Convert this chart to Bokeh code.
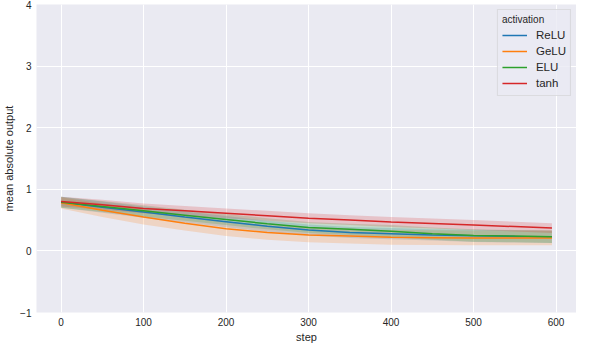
from bokeh.plotting import figure
from bokeh.models import Range1d, FixedTicker, Legend, LegendItem
from bokeh.embed import file_html
from bokeh.resources import INLINE

steps = [0, 50, 100, 150, 200, 250, 300, 350, 400, 450, 500, 550, 595]
relu = [0.79, 0.71, 0.63, 0.55, 0.475, 0.40, 0.34, 0.30, 0.28, 0.26, 0.245, 0.235, 0.23]
relu_err = [0.09, 0.09, 0.09, 0.09, 0.09, 0.09, 0.09, 0.09, 0.09, 0.09, 0.1, 0.1, 0.1]
gelu = [0.78, 0.66, 0.55, 0.45, 0.36, 0.30, 0.26, 0.24, 0.22, 0.215, 0.21, 0.21, 0.21]
gelu_err = [0.09, 0.11, 0.12, 0.12, 0.12, 0.12, 0.12, 0.12, 0.12, 0.12, 0.12, 0.12, 0.12]
elu = [0.79, 0.72, 0.65, 0.58, 0.51, 0.44, 0.38, 0.35, 0.32, 0.28, 0.25, 0.24, 0.23]
elu_err = [0.09, 0.09, 0.09, 0.09, 0.09, 0.09, 0.09, 0.09, 0.1, 0.1, 0.1, 0.1, 0.1]
tanh = [0.80, 0.75, 0.69, 0.65, 0.61, 0.57, 0.53, 0.50, 0.47, 0.445, 0.42, 0.395, 0.37]
tanh_err = [0.08, 0.08, 0.08, 0.08, 0.08, 0.08, 0.08, 0.08, 0.08, 0.08, 0.08, 0.08, 0.08]

series = [("ReLU", relu, relu_err, "#1f77b4"),
          ("GeLU", gelu, gelu_err, "#ff7f0e"),
          ("ELU", elu, elu_err, "#2ca02c"),
          ("tanh", tanh, tanh_err, "#d62728")]

x_ticks = [0, 100, 200, 300, 400, 500, 600]
y_ticks = [-1, 0, 1, 2, 3, 4]

FONT = "Liberation Sans"
TXT = "#262626"

p = figure(width=576, height=345, output_backend="svg", toolbar_location=None,
           x_range=Range1d(-29.75, 624.75), y_range=Range1d(-1, 4),
           min_border_top=4, min_border_right=0, min_border_left=0, min_border_bottom=0)
p.background_fill_color = "#EAEAF2"
p.border_fill_color = "white"
p.outline_line_color = None

for ax in (p.xaxis[0], p.yaxis[0]):
    ax.axis_line_color = None
    ax.major_tick_line_color = None
    ax.minor_tick_line_color = None
    ax.major_tick_out = 0
    ax.major_tick_in = 0
    ax.major_label_text_font = FONT
    ax.major_label_text_font_size = "10px"
    ax.major_label_text_color = TXT
    ax.axis_label_text_font = FONT
    ax.axis_label_text_font_size = "11px"
    ax.axis_label_text_font_style = "normal"
    ax.axis_label_text_color = TXT

p.xaxis.major_label_standoff = 5
p.xaxis.axis_label_standoff = 2
p.yaxis.major_label_standoff = 5
p.yaxis.axis_label_standoff = 2

p.xaxis.ticker = FixedTicker(ticks=x_ticks)
p.yaxis.ticker = FixedTicker(ticks=y_ticks)
p.yaxis.major_label_overrides = {t: ("\u2212" + str(-t) if t < 0 else str(t)) for t in y_ticks}
p.xaxis.axis_label = "step"
p.yaxis.axis_label = "mean absolute output"

p.xgrid.ticker = FixedTicker(ticks=x_ticks)
p.ygrid.ticker = FixedTicker(ticks=y_ticks)
p.grid.grid_line_color = "white"
p.grid.grid_line_width = 1

items = []
for name, vals, err, col in series:
    lo = [v - e for v, e in zip(vals, err)]
    hi = [v + e for v, e in zip(vals, err)]
    p.varea(x=steps, y1=lo, y2=hi, fill_color=col, fill_alpha=0.2)
for name, vals, err, col in series:
    r = p.line(x=steps, y=vals, line_color=col, line_width=1.5)
    items.append(LegendItem(label=name, renderers=[r]))

legend = Legend(items=items, location="top_right", title="activation")
legend.title_text_font = FONT
legend.title_text_font_size = "10px"
legend.title_text_font_style = "normal"
legend.title_text_color = TXT
legend.title_standoff = 2
legend.label_text_font = FONT
legend.label_text_font_size = "11.5px"
legend.label_text_color = TXT
legend.label_standoff = 9
legend.background_fill_color = "#EAEAF2"
legend.background_fill_alpha = 0.8
legend.border_line_color = "#CCCCCC"
legend.margin = 5
legend.padding = 4
legend.spacing = 0
legend.glyph_width = 25
legend.glyph_height = 16
legend.label_height = 16
p.add_layout(legend)

open("out.html", "w").write(file_html(p, INLINE))
